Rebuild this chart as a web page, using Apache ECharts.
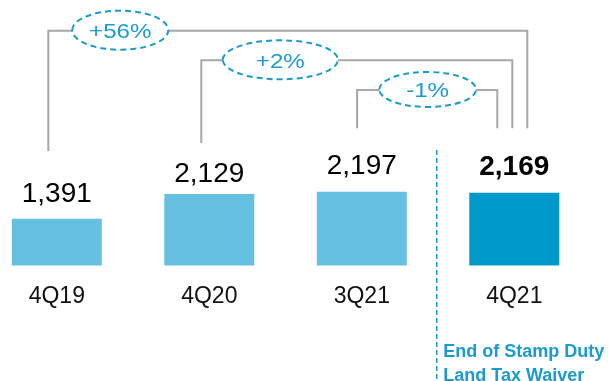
<!DOCTYPE html>
<html>
<head>
<meta charset="utf-8">
<script src="https://cdn.jsdelivr.net/npm/echarts@6/dist/echarts.min.js"></script>
<style>
  html, body { margin: 0; padding: 0; background: #fff; }
  #chart { width: 611px; height: 381px; }
</style>
</head>
<body>
<div id="chart"></div>
<script>
// Quarterly values
const categories = ['4Q19', '4Q20', '3Q21', '4Q21'];
const values = [1391, 2129, 2197, 2169];

// Comparisons drawn as brackets above the bars
const compareFrom = ['4Q19', '4Q20', '3Q21'];
const compareTo = ['4Q21', '4Q21', '4Q21'];
const changeLabels = ['+56%', '+2%', '-1%'];

// Annotation text after the separator
const noteLines = ['End of Stamp Duty', 'Land Tax Waiver'];

const FONT = 'Arial, "Liberation Sans", sans-serif';
const LIGHT = '#66C0E1';
const DARK = '#0099CC';
const ACCENT = '#1A9BD0';
const GREY = '#A8A8A8';

const chart = echarts.init(document.getElementById('chart'), null, { renderer: 'canvas' });

// Bracket geometry per level (pixel offsets relative to the category centres)
const bracketStyle = [
  { top: 30.7, dl: -8.5, dr: 13, leftBottom: 151, ex: 72, rx: 48, ry: 19.5 },
  { top: 60.3, dl: -8, dr: -2, leftBottom: 143, ex: 79, rx: 57.5, ry: 19.5 },
  { top: 90.0, dl: -4.7, dr: -17, leftBottom: 128.3, ex: 70.5, rx: 48.3, ry: 17.5 }
];
const RIGHT_BOTTOM = 128.3;

const barData = values.map((v, i) => {
  const last = i === values.length - 1;
  const item = {
    value: v,
    itemStyle: { color: last ? DARK : LIGHT },
    label: { fontWeight: last ? 'bold' : 'normal' }
  };
  if (i === 1) item.label.distance = 6;
  return item;
});

const bracketData = compareFrom.map((f, i) => [
  categories.indexOf(f), categories.indexOf(compareTo[i]), i
]);

chart.setOption({
  animation: false,
  backgroundColor: '#fff',
  grid: { left: 56.8, top: 30.5, width: 457.5, height: 235, containLabel: false },
  xAxis: {
    type: 'category',
    data: categories,
    boundaryGap: false,
    axisLine: { show: false },
    axisTick: { show: false },
    axisLabel: { color: '#111', fontSize: 23, fontFamily: FONT, margin: 20 }
  },
  yAxis: { type: 'value', min: 0, max: 7000, show: false, splitLine: { show: false } },
  series: [
    {
      type: 'bar',
      data: barData,
      barWidth: 90,
      clip: false,
      label: {
        show: true,
        position: 'top',
        distance: 11,
        color: '#000',
        fontSize: 28,
        fontFamily: FONT,
        formatter: p => p.value.toLocaleString('en-US')
      }
    },
    {
      type: 'custom',
      clip: false,
      silent: true,
      data: bracketData,
      encode: { x: [0, 1] },
      renderItem: (params, api) => {
        const s = bracketStyle[api.value(2)];
        const fromX = api.coord([api.value(0), 0])[0];
        const toX = api.coord([api.value(1), 0])[0];
        const lx = fromX + s.dl;
        const rx = toX + s.dr;
        const cx = lx + s.ex;
        return {
          type: 'group',
          children: [
            {
              type: 'polyline',
              shape: { points: [[lx, s.leftBottom], [lx, s.top], [rx, s.top], [rx, RIGHT_BOTTOM]] },
              style: { stroke: GREY, lineWidth: 2, fill: null }
            },
            {
              type: 'ellipse',
              shape: { cx: cx, cy: s.top - 0.5, rx: s.rx, ry: s.ry },
              style: { fill: '#fff', stroke: ACCENT, lineWidth: 2, lineDash: [6, 4] }
            },
            {
              // slightly widened percentage text
              type: 'text',
              x: cx,
              y: s.top + 1.5,
              scaleX: 1.15,
              style: {
                text: changeLabels[params.dataIndex],
                fill: ACCENT,
                font: '21px ' + FONT,
                align: 'center',
                verticalAlign: 'middle'
              }
            }
          ]
        };
      }
    },
    {
      // Separator before the latest quarter with its note
      type: 'custom',
      clip: false,
      silent: true,
      data: [[categories.length - 2, categories.length - 1]],
      encode: { x: [0, 1] },
      renderItem: (params, api) => {
        const a = api.coord([api.value(0), 0])[0];
        const b = api.coord([api.value(1), 0])[0];
        const x = (a + b) / 2 - 1.3;
        return {
          type: 'group',
          children: [
            {
              type: 'line',
              shape: { x1: x, y1: 150, x2: x, y2: 381 },
              style: { stroke: ACCENT, lineWidth: 1.5, lineDash: [5, 3] }
            },
            {
              type: 'text',
              x: x + 6.5,
              y: 340,
              style: {
                text: noteLines.join('\n'),
                fill: ACCENT,
                font: 'bold 18px ' + FONT,
                lineHeight: 24,
                align: 'left',
                verticalAlign: 'top'
              }
            }
          ]
        };
      }
    }
  ]
});
</script>
</body>
</html>
